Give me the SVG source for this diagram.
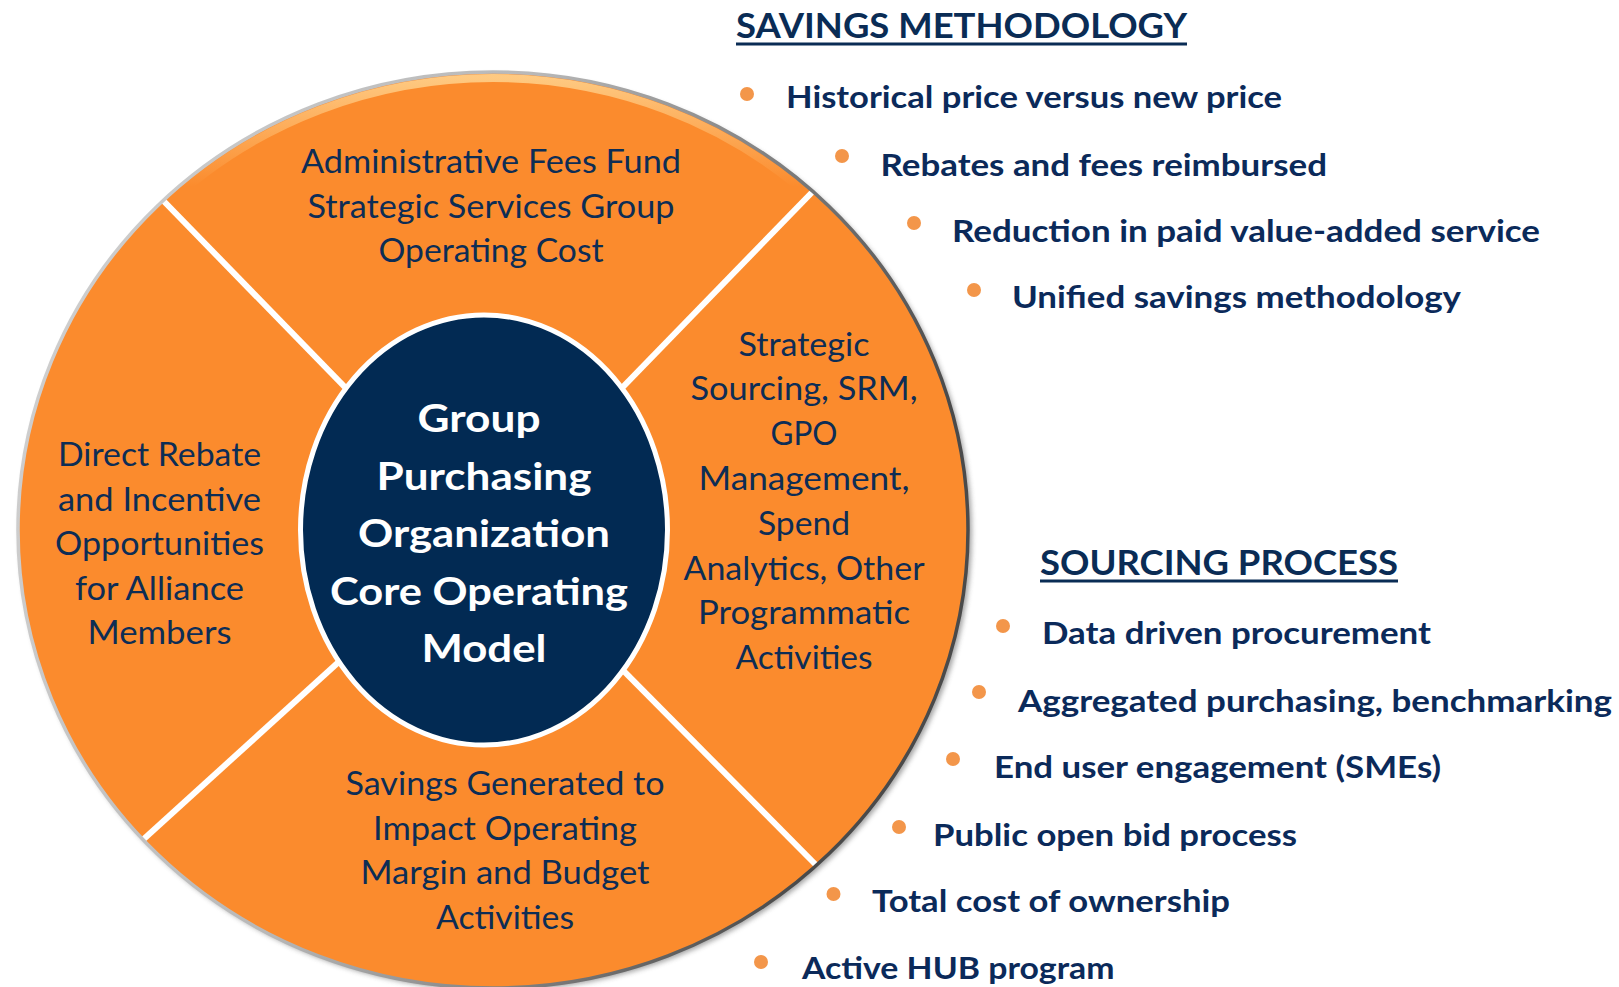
<svg xmlns="http://www.w3.org/2000/svg" width="1619" height="987" viewBox="0 0 1619 987">
<defs>
<linearGradient id="rimGrad" x1="0" y1="0" x2="1" y2="0.3">
<stop offset="0" stop-color="#d4d4d4"/>
<stop offset="0.5" stop-color="#b8b8b8"/>
<stop offset="1" stop-color="#4a4a4a"/>
</linearGradient>
<linearGradient id="topHi" x1="0" y1="0" x2="0" y2="1">
<stop offset="0" stop-color="#ffd08a" stop-opacity="0.9"/>
<stop offset="0.12" stop-color="#ffd08a" stop-opacity="0"/>
<stop offset="1" stop-color="#ffd08a" stop-opacity="0"/>
</linearGradient>
<filter id="blur" x="-10%" y="-10%" width="120%" height="120%">
<feGaussianBlur stdDeviation="2.5"/>
</filter>
<clipPath id="wheelClip">
<ellipse cx="493" cy="530" rx="475" ry="458"/>
</clipPath>
<style>
.seg{font-family:Lato,"Open Sans",sans-serif;font-size:33px;fill:#0d2d55;text-anchor:middle;}
.ctr{font-family:Lato,"Open Sans",sans-serif;font-weight:bold;font-size:38px;fill:#ffffff;text-anchor:middle;}
.hd{font-family:Lato,"Open Sans",sans-serif;font-weight:bold;font-size:35px;fill:#0a2c55;}
.bl{font-family:Lato,"Open Sans",sans-serif;font-weight:bold;font-size:31px;fill:#0b2a5a;}
.dot{fill:#f3964a;}
.div{stroke:#ffffff;stroke-width:6;stroke-linecap:butt;}
</style>
</defs>
<rect width="1619" height="987" fill="#ffffff"/>

<g id="wheel">
<ellipse cx="496" cy="533" rx="476" ry="458" fill="#6a6a6a" opacity="0.6" filter="url(#blur)"/>
<ellipse cx="493" cy="530" rx="475" ry="458" fill="#fb8b2d"/>
<ellipse cx="493" cy="530" rx="469" ry="452" fill="none" stroke="url(#topHi)" stroke-width="8"/>
</g>

<g id="connectors" clip-path="url(#wheelClip)">
<line class="div" x1="150" y1="187" x2="484" y2="530"/>
<line class="div" x1="823" y1="181" x2="484" y2="530"/>
<line class="div" x1="135" y1="847" x2="484" y2="530"/>
<line class="div" x1="820" y1="869" x2="484" y2="530"/>
</g>

<g id="rim">
<ellipse cx="493" cy="530" rx="475" ry="458" fill="none" stroke="url(#rimGrad)" stroke-width="3.5"/>
</g>

<g id="seg-top">
<text class="seg" x="491" y="173" textLength="380" lengthAdjust="spacingAndGlyphs">Administrative Fees Fund</text>
<text class="seg" x="491" y="217.5" textLength="367" lengthAdjust="spacingAndGlyphs">Strategic Services Group</text>
<text class="seg" x="491" y="262" textLength="225" lengthAdjust="spacingAndGlyphs">Operating Cost</text>
</g>

<g id="seg-left">
<text class="seg" x="159.5" y="466" textLength="203" lengthAdjust="spacingAndGlyphs">Direct Rebate</text>
<text class="seg" x="159.5" y="510.5" textLength="203" lengthAdjust="spacingAndGlyphs">and Incentive</text>
<text class="seg" x="159.5" y="555" textLength="209" lengthAdjust="spacingAndGlyphs">Opportunities</text>
<text class="seg" x="159.5" y="599.5" textLength="169" lengthAdjust="spacingAndGlyphs">for Alliance</text>
<text class="seg" x="159.5" y="644" textLength="144" lengthAdjust="spacingAndGlyphs">Members</text>
</g>

<g id="seg-right">
<text class="seg" x="804" y="355.5" textLength="131" lengthAdjust="spacingAndGlyphs">Strategic</text>
<text class="seg" x="804" y="400.3" textLength="227" lengthAdjust="spacingAndGlyphs">Sourcing, SRM,</text>
<text class="seg" x="804" y="445.1" textLength="67" lengthAdjust="spacingAndGlyphs">GPO</text>
<text class="seg" x="804" y="489.9" textLength="211" lengthAdjust="spacingAndGlyphs">Management,</text>
<text class="seg" x="804" y="534.7" textLength="92" lengthAdjust="spacingAndGlyphs">Spend</text>
<text class="seg" x="804" y="579.5" textLength="241" lengthAdjust="spacingAndGlyphs">Analytics, Other</text>
<text class="seg" x="804" y="624.3" textLength="212" lengthAdjust="spacingAndGlyphs">Programmatic</text>
<text class="seg" x="804" y="669.1" textLength="137" lengthAdjust="spacingAndGlyphs">Activities</text>
</g>

<g id="seg-bottom">
<text class="seg" x="505" y="795" textLength="319" lengthAdjust="spacingAndGlyphs">Savings Generated to</text>
<text class="seg" x="505" y="839.5" textLength="264" lengthAdjust="spacingAndGlyphs">Impact Operating</text>
<text class="seg" x="505" y="884" textLength="289" lengthAdjust="spacingAndGlyphs">Margin and Budget</text>
<text class="seg" x="505" y="928.5" textLength="138" lengthAdjust="spacingAndGlyphs">Activities</text>
</g>

<g id="core">
<ellipse cx="484" cy="530" rx="183.5" ry="215" fill="#022a53" stroke="#ffffff" stroke-width="5"/>
<text class="ctr" x="479" y="432" textLength="123" lengthAdjust="spacingAndGlyphs">Group</text>
<text class="ctr" x="484" y="489.5" textLength="215" lengthAdjust="spacingAndGlyphs">Purchasing</text>
<text class="ctr" x="484" y="547" textLength="252" lengthAdjust="spacingAndGlyphs">Organization</text>
<text class="ctr" x="479" y="604.5" textLength="298" lengthAdjust="spacingAndGlyphs">Core Operating</text>
<text class="ctr" x="484" y="662" textLength="125" lengthAdjust="spacingAndGlyphs">Model</text>
</g>

<g id="savings-methodology">
<text class="hd" x="736" y="38" textLength="451" lengthAdjust="spacingAndGlyphs">SAVINGS METHODOLOGY</text>
<rect x="736" y="42.5" width="451" height="3" fill="#0a2c55"/>
<circle class="dot" cx="747" cy="94" r="7"/>
<text class="bl" x="786" y="108" textLength="496" lengthAdjust="spacingAndGlyphs">Historical price versus new price</text>
<circle class="dot" cx="842" cy="156" r="7"/>
<text class="bl" x="880.5" y="176" textLength="446.5" lengthAdjust="spacingAndGlyphs">Rebates and fees reimbursed</text>
<circle class="dot" cx="914" cy="223" r="7"/>
<text class="bl" x="952" y="242" textLength="588" lengthAdjust="spacingAndGlyphs">Reduction in paid value-added service</text>
<circle class="dot" cx="974" cy="290" r="7"/>
<text class="bl" x="1012" y="308" textLength="449" lengthAdjust="spacingAndGlyphs">Unified savings methodology</text>
</g>

<g id="sourcing-process">
<text class="hd" x="1040" y="575" textLength="358" lengthAdjust="spacingAndGlyphs">SOURCING PROCESS</text>
<rect x="1040" y="579.5" width="358" height="3" fill="#0a2c55"/>
<circle class="dot" cx="1003" cy="626" r="7"/>
<text class="bl" x="1042" y="644" textLength="389" lengthAdjust="spacingAndGlyphs">Data driven procurement</text>
<circle class="dot" cx="979" cy="692" r="7"/>
<text class="bl" x="1018" y="712" textLength="594" lengthAdjust="spacingAndGlyphs">Aggregated purchasing, benchmarking</text>
<circle class="dot" cx="953" cy="759" r="7"/>
<text class="bl" x="994" y="778" textLength="447" lengthAdjust="spacingAndGlyphs">End user engagement (SMEs)</text>
<circle class="dot" cx="899" cy="827" r="7"/>
<text class="bl" x="933" y="846" textLength="364" lengthAdjust="spacingAndGlyphs">Public open bid process</text>
<circle class="dot" cx="833.5" cy="894" r="7"/>
<text class="bl" x="872" y="912" textLength="358" lengthAdjust="spacingAndGlyphs">Total cost of ownership</text>
<circle class="dot" cx="761" cy="962" r="7"/>
<text class="bl" x="802" y="979" textLength="312.5" lengthAdjust="spacingAndGlyphs">Active HUB program</text>
</g>
</svg>
